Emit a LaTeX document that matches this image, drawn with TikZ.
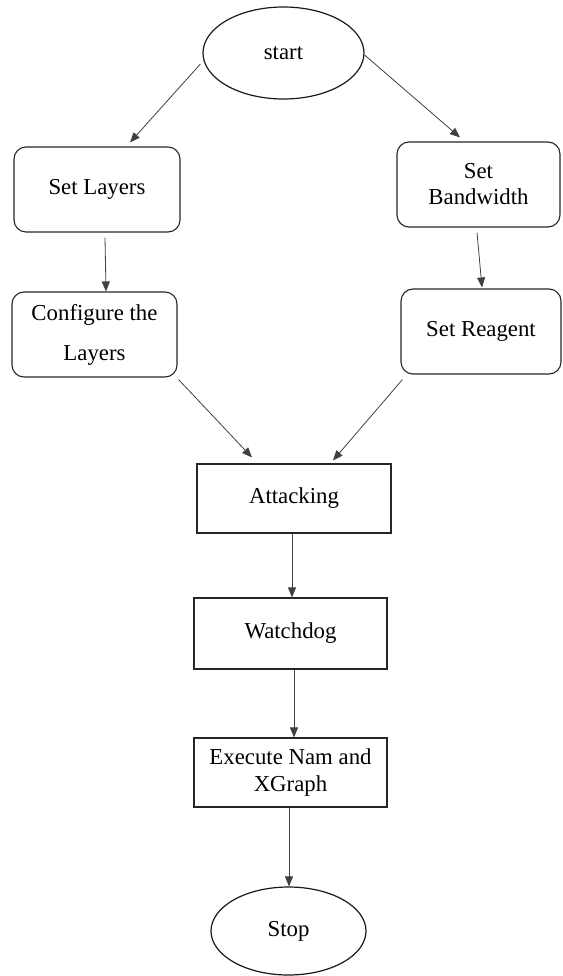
\documentclass[tikz,border=0pt]{standalone}
\usepackage{fontspec}
\setmainfont{Liberation Serif}
\usetikzlibrary{shapes.geometric,arrows.meta}
\begin{document}
\begin{tikzpicture}[x=1pt,y=-1pt,
  every node/.style={font=\fontsize{22.8}{26}\selectfont, align=center, inner sep=0pt},
  oval/.style={ellipse, draw=black!90, line width=1.2pt},
  rbox/.style={rectangle, rounded corners=12pt, draw=black!85, line width=1.1pt},
  sbox/.style={rectangle, draw=black!85, line width=1.1pt},
  arr/.style={draw=black!75, line width=0.8pt, -{Triangle[length=10pt,width=8pt]}}
]
\useasboundingbox (0,0) rectangle (562,976);
\node[oval, minimum width=161pt, minimum height=92pt] (start) at (283.5,53) {start};
\node[rbox, minimum width=166pt, minimum height=85pt] (setlayers) at (97,189.5) {Set Layers};
\node[rbox, minimum width=163pt, minimum height=85pt] (setbw) at (478.5,184.5) {Set\\Bandwidth};
\node[rbox, minimum width=165pt, minimum height=85pt, font=\fontsize{22.8}{40}\selectfont] (config) at (94.5,334.5) {Configure the\\Layers};
\node[rbox, minimum width=160pt, minimum height=85pt] (reagent) at (481,331.5) {Set Reagent};
\node[sbox, minimum width=194pt, minimum height=69pt] (attacking) at (294,498.5) {Attacking};
\node[sbox, minimum width=193pt, minimum height=71pt] (watchdog) at (290.5,633.5) {Watchdog};
\node[sbox, minimum width=193pt, minimum height=69pt, font=\fontsize{22.8}{27}\selectfont] (execute) at (290.5,772.5) {Execute Nam and\\XGraph};
\node[oval, minimum width=155pt, minimum height=88pt] (stop) at (288.5,931) {Stop};

\draw[arr] ([xshift=-2pt,yshift=-11pt]start.west) -- ([xshift=33pt,yshift=4pt]setlayers.north);
\draw[arr] ([yshift=-2pt]start.east) -- ([xshift=-18.5pt,yshift=4pt]setbw.north);
\draw[arr] ([xshift=8pt,yshift=-5pt]setlayers.south) -- ([xshift=11.5pt]config.north);
\draw[arr] ([xshift=-1.5pt,yshift=-5pt]setbw.south) -- ([xshift=1pt,yshift=1pt]reagent.north);
\draw[arr] ([xshift=1pt,yshift=-2pt]config.south east) -- ([xshift=-42pt,yshift=6pt]attacking.north);
\draw[arr] ([xshift=2pt,yshift=-5pt]reagent.south west) -- ([xshift=39pt,yshift=3pt]attacking.north);
\draw[arr] ([xshift=-2pt]attacking.south) -- ([xshift=1.5pt]watchdog.north);
\draw[arr] ([xshift=3.5pt]watchdog.south) -- ([xshift=3.5pt]execute.north);
\draw[arr] ([xshift=-1.5pt]execute.south) -- ([xshift=0.5pt]stop.north);
\end{tikzpicture}
\end{document}
